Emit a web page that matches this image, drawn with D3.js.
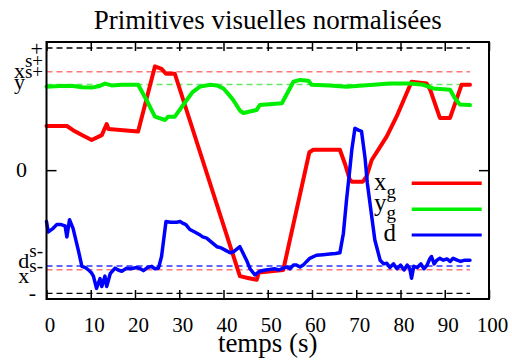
<!DOCTYPE html>
<html><head><meta charset="utf-8">
<script src="https://cdn.jsdelivr.net/npm/d3@7"></script>
<style>body{margin:0;background:#fff}svg{display:block}</style>
</head><body>
<svg id="c" width="512" height="362"></svg>
<script>
// ---------- data ----------
const title = "Primitives visuelles normalisées";
const xLabel = "temps (s)";
const xTickValues = [0,10,20,30,40,50,60,70,80,90,100];
const tEnd = 95.7;

// y tick labels (main text + superscript)
const yTickValues = [1, 0.807, 0.703, 0, -0.777, -0.809, -1];
const yTickMain   = ["+", "x", "y", "0", "d", "x", "-"];
const yTickSup    = ["", "s+", "s+", "", "s-", "s-", ""];

// reference (dashed) levels
const refValues = [1, 0.807, 0.703, -0.777, -0.809, -1];
const refKeys   = ["lim", "x", "y", "d", "x", "lim"];

// series x_g
const tXg = [0,4.6,6,8,10.2,12.5,13.6,14,20.7,24.5,26,27,29,43.7,45.5,47.5,48,53.5,59.4,60.3,66.3,67.5,68.5,69,71.5,72.3,73.5,76.9,79.1,82.5,85.9,86.7,88.9,91.2,93.8,95.7];
const xg  = [0.364,0.364,0.33,0.29,0.25,0.29,0.38,0.34,0.32,0.85,0.83,0.79,0.79,-0.86,-0.875,-0.89,-0.83,-0.81,0.15,0.17,0.17,0.05,-0.07,-0.09,-0.09,-0.05,0.087,0.28,0.44,0.725,0.71,0.66,0.43,0.43,0.70,0.70];

// series y_g
const tYg = [0,3,6,8,10.2,12,13.2,14.7,17,20.7,22.6,24.5,26.8,27.5,29,31.7,33,34.7,37,38.5,40,41.2,42.2,43.7,44.5,47.5,48.2,53.2,55.8,57.3,59.2,59.9,64,67.8,70,73.9,77.6,82.1,85.2,87.4,91.2,92.3,93.4,95.7];
const yg  = [0.685,0.69,0.69,0.68,0.677,0.69,0.71,0.695,0.70,0.70,0.576,0.44,0.413,0.44,0.44,0.576,0.64,0.685,0.70,0.695,0.67,0.62,0.576,0.49,0.47,0.495,0.535,0.55,0.725,0.74,0.733,0.70,0.695,0.685,0.69,0.70,0.71,0.71,0.70,0.67,0.66,0.59,0.54,0.535];

// series d
const tD = [0,0.4,1.5,2.3,3.3,4.2,4.6,5.2,6,7.2,8,8.8,9.5,10.1,10.6,11.3,12.1,12.5,13.2,13.6,14.4,15.5,16.2,17,18.1,19,20.4,21.2,21.9,22.8,23.8,24.5,25.3,26,27,28,29.4,30.2,30.9,31.5,32.4,33.5,34.5,35.3,36.2,37.2,38.5,39.5,40.5,41.5,42.3,43.7,45.2,46,47.1,48.2,49.5,50.5,51.5,52.5,53.5,54.3,55,55.8,56.5,57.3,58,58.8,59.5,61,62.5,64,65.3,66.3,67.1,67.8,68.6,69,69.7,70.5,71.2,72,72.5,73.5,74.2,75.4,76.2,76.9,77.6,78.4,79.2,80,80.8,81.5,82.1,82.5,83,83.8,84.6,85.3,86,86.6,87,87.6,88.2,88.9,89.7,90.5,91.2,91.9,92.8,93.6,94.5,95.7];
const d  = [-0.415,-0.50,-0.47,-0.44,-0.44,-0.45,-0.54,-0.40,-0.47,-0.65,-0.78,-0.79,-0.81,-0.83,-0.86,-0.96,-0.88,-0.945,-0.86,-0.945,-0.84,-0.795,-0.81,-0.82,-0.795,-0.80,-0.79,-0.80,-0.815,-0.79,-0.78,-0.80,-0.795,-0.70,-0.415,-0.42,-0.42,-0.415,-0.43,-0.44,-0.48,-0.50,-0.52,-0.54,-0.55,-0.58,-0.62,-0.63,-0.65,-0.67,-0.66,-0.62,-0.73,-0.80,-0.85,-0.82,-0.81,-0.805,-0.80,-0.81,-0.795,-0.785,-0.80,-0.77,-0.77,-0.785,-0.77,-0.74,-0.715,-0.69,-0.685,-0.68,-0.675,-0.67,-0.51,-0.24,0.03,0.17,0.345,0.33,0.32,0.10,-0.10,-0.375,-0.565,-0.73,-0.76,-0.755,-0.79,-0.76,-0.80,-0.77,-0.81,-0.77,-0.80,-0.877,-0.78,-0.79,-0.76,-0.80,-0.77,-0.72,-0.70,-0.76,-0.73,-0.715,-0.73,-0.72,-0.74,-0.715,-0.73,-0.74,-0.73,-0.73];

const legendMain = ["x", "y", "d"];
const legendSub  = ["g", "g", ""];

// ---------- style / layout ----------
const colors = {x: "#ff0000", y: "#00ee00", d: "#0000ff"};
const refColors = {lim: "#000000", x: "#ff7878", y: "#66e866", d: "#3030ff"};
const FONT = "'Liberation Serif', 'Times New Roman', serif";
const L = 46.5, R = 489, T = 42, B = 299;

const svg = d3.select("#c");
const x = d3.scaleLinear().domain([0, 100]).range([L, R]);
const y = d3.scaleLinear().domain([-1, 1]).range([293.3, 48]);

// title
svg.append("text").attr("x", (L + R) / 2).attr("y", 29)
  .attr("text-anchor", "middle").attr("font-family", FONT).attr("font-size", 27)
  .text(title);

// dashed reference lines
svg.append("g").selectAll("line").data(refValues).join("line")
  .attr("x1", x(0)).attr("x2", x(tEnd))
  .attr("y1", v => y(v)).attr("y2", v => y(v))
  .attr("stroke", (v, i) => refColors[refKeys[i]])
  .attr("stroke-width", (v, i) => refKeys[i] === "lim" ? 1.3 : 1.5)
  .attr("stroke-dasharray", "6,4");

// series
const line = d3.line().x(p => x(p[0])).y(p => y(p[1]));
const series = [
  {key: "x", t: tXg, v: xg, w: 4},
  {key: "y", t: tYg, v: yg, w: 4},
  {key: "d", t: tD, v: d, w: 3.5}
];
series.forEach(s => {
  svg.append("path").datum(s.t.map((t, i) => [t, s.v[i]]))
    .attr("d", line).attr("fill", "none")
    .attr("stroke", colors[s.key]).attr("stroke-width", s.w)
    .attr("stroke-linejoin", "round").attr("stroke-linecap", "round");
});

// frame
svg.append("rect").attr("x", L).attr("y", T).attr("width", R - L).attr("height", B - T)
  .attr("fill", "none").attr("stroke", "#000").attr("stroke-width", 2);

// x ticks (bottom axis + mirrored top ticks, inward)
const xAxisB = d3.axisBottom(x).tickValues(xTickValues).tickSizeInner(-9).tickSizeOuter(0).tickPadding(24);
const gxb = svg.append("g").attr("transform", `translate(0,${B})`).call(xAxisB);
gxb.select(".domain").remove();
gxb.selectAll(".tick line").attr("stroke", "#000").attr("stroke-width", 1.5);
gxb.selectAll(".tick text").attr("font-family", FONT).attr("font-size", 21)
  .attr("fill", "#000").attr("dx", 3).attr("dy", 0).attr("y", 33);
const xAxisT = d3.axisTop(x).tickValues(xTickValues).tickSizeInner(-9).tickSizeOuter(0).tickFormat("");
const gxt = svg.append("g").attr("transform", `translate(0,${T})`).call(xAxisT);
gxt.select(".domain").remove();
gxt.selectAll(".tick line").attr("stroke", "#000").attr("stroke-width", 1.5);

// y tick at 0 (left and right, inward)
svg.append("line").attr("x1", L).attr("x2", L + 10).attr("y1", y(0)).attr("y2", y(0))
  .attr("stroke", "#000").attr("stroke-width", 1.5);
svg.append("line").attr("x1", R - 10).attr("x2", R).attr("y1", y(0)).attr("y2", y(0))
  .attr("stroke", "#000").attr("stroke-width", 1.5);

// y tick labels
const yLabelNudge = [8, 6.3, 4.5, 6.5, 2, 13, 7];
const yLabelRight = [43, 43, 43, 27, 43, 43, 36];
yTickValues.forEach((v, i) => {
  const t = svg.append("text").attr("x", yLabelRight[i]).attr("y", y(v) + yLabelNudge[i])
    .attr("text-anchor", "end").attr("font-family", FONT).attr("font-size", 22);
  t.append("tspan").text(yTickMain[i]);
  if (yTickSup[i]) t.append("tspan").attr("dy", -11).attr("font-size", 19).text(yTickSup[i]);
});

// x label
svg.append("text").attr("x", (L + R) / 2).attr("y", 352).attr("text-anchor", "middle")
  .attr("font-family", FONT).attr("font-size", 27).text(xLabel);

// legend
const legY = [183.3, 209.3, 235];
const legTextY = [190, 211, 241];
legendMain.forEach((m, i) => {
  const k = series[i].key;
  svg.append("line").attr("x1", 411.7).attr("x2", 481.7).attr("y1", legY[i]).attr("y2", legY[i])
    .attr("stroke", colors[k]).attr("stroke-width", series[i].w - 0.5);
  const t = svg.append("text").attr("x", 396).attr("y", legTextY[i]).attr("text-anchor", "end")
    .attr("font-family", FONT).attr("font-size", 25);
  t.append("tspan").text(m);
  if (legendSub[i]) t.append("tspan").attr("dy", 8).attr("font-size", 19).text(legendSub[i]);
});
</script>
</body></html>
